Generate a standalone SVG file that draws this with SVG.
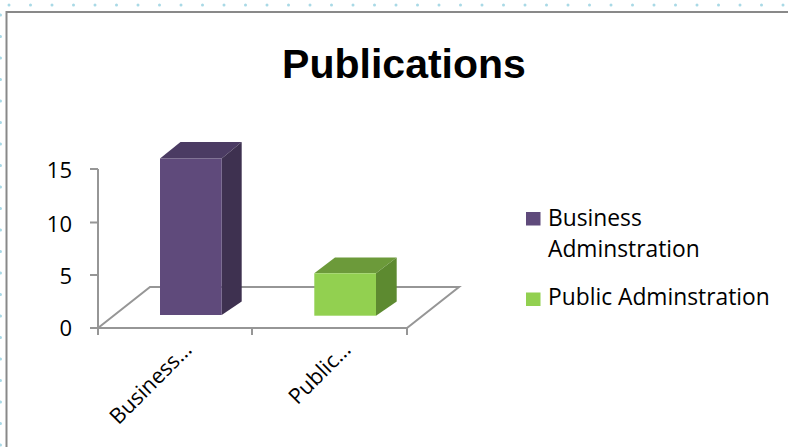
<svg xmlns="http://www.w3.org/2000/svg" width="788" height="447" viewBox="0 0 788 447">
<style>
.lbl{font-family:"Open Sans","Liberation Sans",sans-serif;font-size:22px;fill:#000}
.leg{font-family:"Open Sans","Liberation Sans",sans-serif;font-size:22.8px;fill:#000}
.cat{font-family:"Open Sans","Liberation Sans",sans-serif;font-size:21.5px;fill:#000}
.title{font-family:"Liberation Sans",Arial,sans-serif;font-size:41px;font-weight:bold;fill:#000}
.axis{stroke:#969696;stroke-width:2;fill:none}
.dots{stroke:#a9d9e6;stroke-width:3;stroke-linecap:round;stroke-dasharray:0 21.5}
</style>
<rect x="0" y="0" width="788" height="447" fill="#fff"/>
<g id="grid-dots">
<line class="dots" x1="9" y1="5" x2="788" y2="5"/>
<line class="dots" x1="0.5" y1="15" x2="0.5" y2="447"/>
</g>
<rect id="frame" x="6.5" y="12" width="800" height="450" fill="#fff" stroke="#898989" stroke-width="2"/>
<g id="title"><text class="title" x="404" y="78" text-anchor="middle">Publications</text></g>
<g id="axes">
<path class="axis" d="M98,328 L150,287 L459,287 L407,328 Z"/>
<path class="axis" d="M98,169 L98,335 M90,169 L98,169 M90,222.5 L98,222.5 M90,275 L98,275 M90,328 L98,328 M252,328 L252,335 M407,328 L407,335"/>
</g>
<g id="y-labels">
<text class="lbl" x="72" y="178" text-anchor="end">15</text>
<text class="lbl" x="72" y="231.5" text-anchor="end">10</text>
<text class="lbl" x="72" y="284" text-anchor="end">5</text>
<text class="lbl" x="72" y="336" text-anchor="end">0</text>
</g>
<g id="bar-business">
<polygon points="160,158.5 180.5,142 241.7,142 221.7,158.5" fill="#4b3b63"/>
<polygon points="221.7,158.5 241.7,142 241.7,301.5 221.7,315" fill="#3e3150"/>
<rect x="160" y="158.5" width="61.7" height="156.5" fill="#5f4a7b"/>
</g>
<g id="bar-public">
<polygon points="314.3,273.3 335,257.5 396.7,257.5 376,273.3" fill="#6c9a3a"/>
<polygon points="376,273.3 396.7,257.5 396.7,301.5 376,315.7" fill="#5d8a30"/>
<rect x="314.3" y="273.3" width="61.7" height="42.4" fill="#92d050"/>
</g>
<g id="x-labels">
<text class="cat" transform="translate(193,351) rotate(-45)" text-anchor="end">Business…</text>
<text class="cat" transform="translate(352,351) rotate(-45)" text-anchor="end">Public…</text>
</g>
<g id="legend-business">
<rect x="526" y="212" width="14.5" height="13.5" fill="#5f4a7b"/>
<text class="leg" x="548" y="226">Business</text>
<text class="leg" x="548" y="257">Adminstration</text>
</g>
<g id="legend-public">
<rect x="526" y="292.5" width="14.5" height="13.5" fill="#92d050"/>
<text class="leg" x="548" y="305">Public Adminstration</text>
</g>
</svg>
